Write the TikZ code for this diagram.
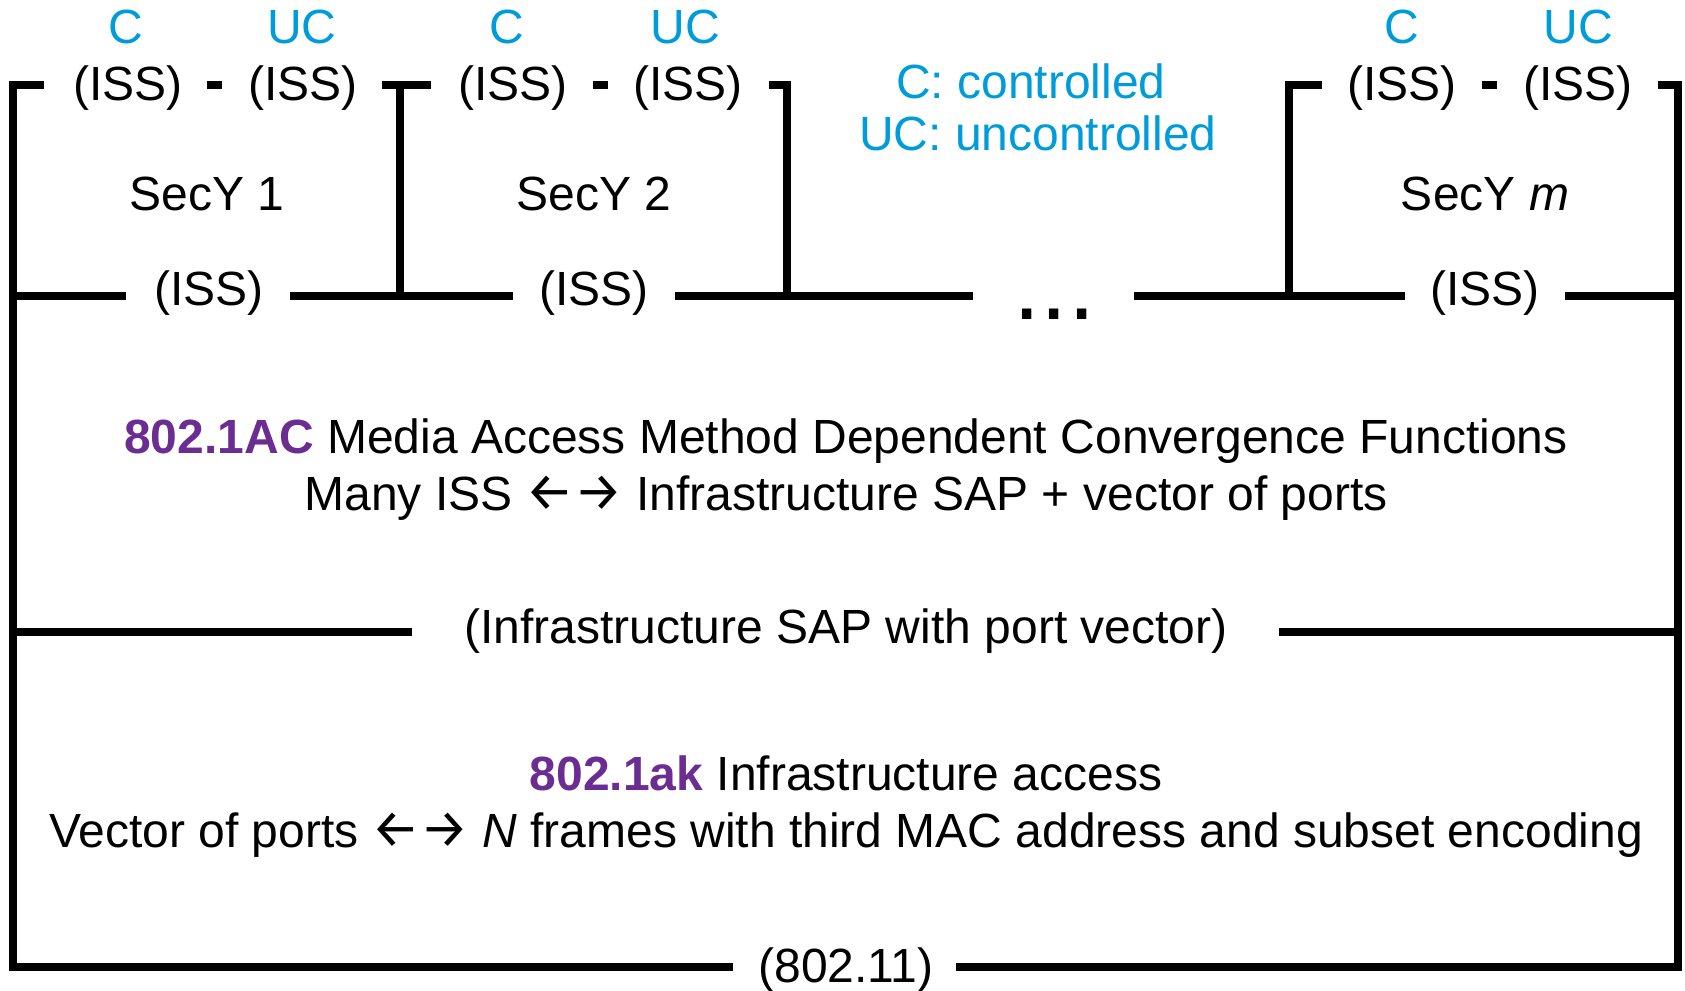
\documentclass[tikz,border=0pt]{standalone}
\usepackage{fontspec}
\setmainfont{Liberation Sans}
\newfontfamily\arrowfont{Fira Sans}
\newcommand{\lrarrows}{{\arrowfont\fontsize{54}{58}\selectfont ←→}}
\definecolor{ucblue}{RGB}{0,155,217}
\definecolor{stdpurple}{RGB}{107,45,145}
\begin{document}
\begin{tikzpicture}[x=1pt,y=-1pt,
  lbl/.style={font=\fontsize{48}{58}\selectfont, inner sep=0pt, anchor=base},
  tag/.style={lbl, text=ucblue},
  bar/.style={line width=8pt, line join=miter}]
\useasboundingbox (0,0) rectangle (1685,990);

% ---------- service access point labels ----------
\node[tag] (c1)  at (126,44)  {C};
\node[tag] (uc1) at (302,44)  {UC};
\node[tag] (c2)  at (507,44)  {C};
\node[tag] (uc2) at (685,44)  {UC};
\node[tag] (cm)  at (1402,44) {C};
\node[tag] (ucm) at (1578,44) {UC};

\node[lbl] (i1c) at (128,100)  {(ISS)};
\node[lbl] (i1u) at (303,100)  {(ISS)};
\node[lbl] (i2c) at (513,100)  {(ISS)};
\node[lbl] (i2u) at (688,100)  {(ISS)};
\node[lbl] (imc) at (1402,100) {(ISS)};
\node[lbl] (imu) at (1578,100) {(ISS)};

\node[lbl] (sy1) at (207,210)  {SecY 1};
\node[lbl] (sy2) at (594,210)  {SecY 2};
\node[lbl] (sym) at (1485,210) {SecY \textit{m}};

\node[lbl] (i1) at (209,305)  {(ISS)};
\node[lbl] (i2) at (594,305)  {(ISS)};
\node[lbl] (im) at (1485,305) {(ISS)};
\node[lbl, font=\fontsize{98}{100}\selectfont] (dots) at (1054.5,319) {...};

% legend
\node[tag] (legc)  at (1031,98)  {C: controlled};
\node[tag] (leguc) at (1038,150) {UC: uncontrolled};

% ---------- convergence layers ----------
\node[lbl] (ac1) at (846,453) {{\bfseries\color{stdpurple}802.1AC} Media Access Method Dependent Convergence Functions};
\node[lbl] (ac2) at (846,510) {Many ISS \lrarrows{} Infrastructure SAP + vector of ports};
\node[lbl] (sap) at (846,643) {(Infrastructure SAP with port vector)};
\node[lbl] (ak1) at (846,790) {{\bfseries\color{stdpurple}802.1ak} Infrastructure access};
\node[lbl] (ak2) at (846,847) {Vector of ports \lrarrows{} \textit{N} frames with third MAC address and subset encoding};
\node[lbl] (mac) at (846,982) {(802.11)};

% ---------- frame corners and line ends ----------
\coordinate (tl) at (13,85);    \coordinate (tr) at (1678,85);
\coordinate (bl) at (13,967);   \coordinate (br) at (1678,967);
\coordinate (s1) at (44,85);    \coordinate (s6) at (1658,85);
\coordinate (b1) at (733,967);  \coordinate (b2) at (956,967);
\coordinate (m0) at (13,632);   \coordinate (m1) at (412,632);
\coordinate (m2) at (1279,632); \coordinate (m3) at (1678,632);

% outer frame with the 802.11 service line
\draw[bar] (s1) -- (tl) -- (bl) -- (b1);
\draw[bar] (b2) -- (br) -- (tr) -- (s6);
% infrastructure SAP line
\draw[bar] (m0) -- (m1);
\draw[bar] (m2) -- (m3);

% ISS line below the SecYs
\coordinate (r0) at (13,296);   \coordinate (r1) at (126,296);
\coordinate (r2) at (290,296);  \coordinate (r3) at (513,296);
\coordinate (r4) at (675,296);  \coordinate (r5) at (973,296);
\coordinate (r6) at (1134,296); \coordinate (r7) at (1405,296);
\coordinate (r8) at (1565,296); \coordinate (r9) at (1678,296);
\draw[bar] (r0) -- (r1);
\draw[bar] (r2) -- (r3);
\draw[bar] (r4) -- (r5);
\draw[bar] (r6) -- (r7);
\draw[bar] (r8) -- (r9);

% SecY separators
\coordinate (v1t) at (400,85);  \coordinate (v1b) at (400,296);
\coordinate (v1l) at (382,85);  \coordinate (v1r) at (431,85);
\draw[bar] (v1l) -- (v1r);
\draw[bar] (v1t) -- (v1b);
\coordinate (v2s) at (769,85);  \coordinate (v2t) at (787,85);
\coordinate (v2b) at (787,296);
\draw[bar] (v2s) -- (v2t) -- (v2b);
\coordinate (v3s) at (1322,85); \coordinate (v3t) at (1289,85);
\coordinate (v3b) at (1289,296);
\draw[bar] (v3s) -- (v3t) -- (v3b);

% short dashes joining C and UC ports
\coordinate (d1a) at (207,85);  \coordinate (d1b) at (222,85);
\coordinate (d2a) at (593,85);  \coordinate (d2b) at (608,85);
\coordinate (d3a) at (1482,85); \coordinate (d3b) at (1497,85);
\draw[bar] (d1a) -- (d1b);
\draw[bar] (d2a) -- (d2b);
\draw[bar] (d3a) -- (d3b);
\end{tikzpicture}
\end{document}
